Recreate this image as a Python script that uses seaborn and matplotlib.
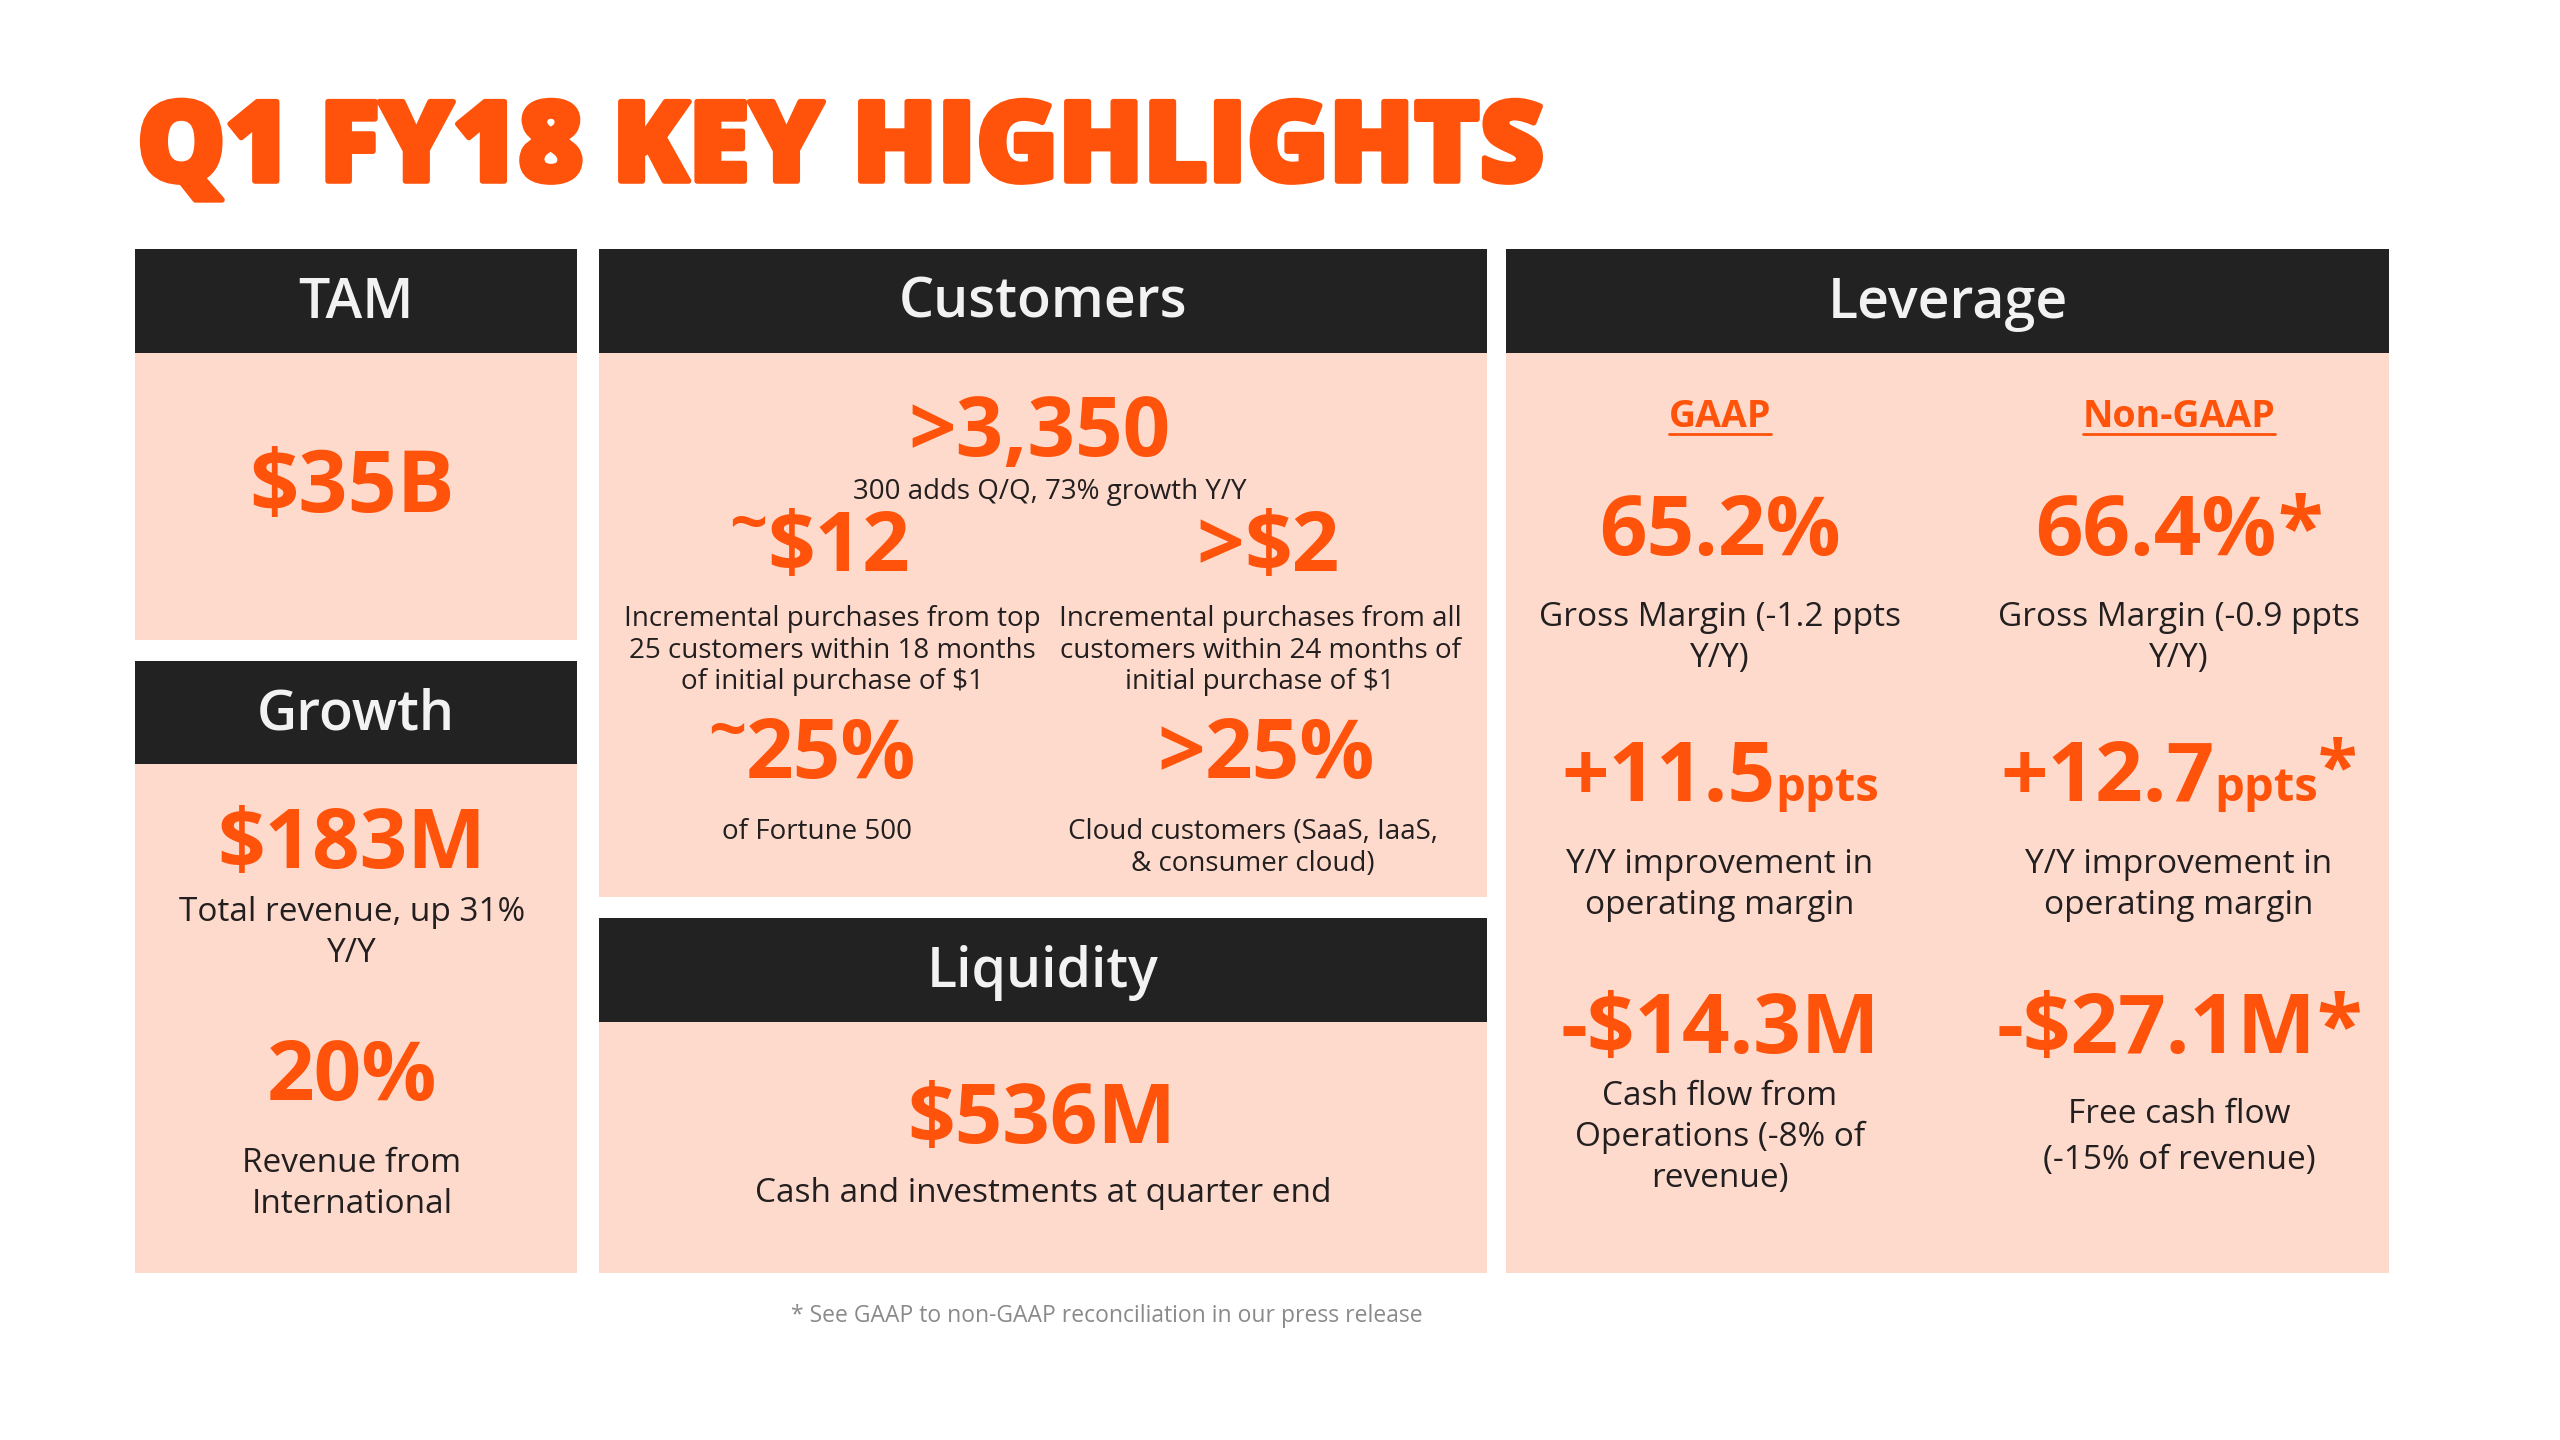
import matplotlib.pyplot as plt
import matplotlib.patheffects as pe
from matplotlib.patches import Rectangle
import seaborn as sns

# Slide content
title = 'Q1 FY18 KEY HIGHLIGHTS'
headers = ['TAM', 'Growth', 'Customers', 'Liquidity', 'Leverage']

tam_value = '$35B'

growth_values = ['$183M', '20%']
growth_notes = [['Total revenue, up 31%', 'Y/Y'],
                ['Revenue from', 'International']]

customer_total = '>3,350'
customer_total_note = '300 adds Q/Q, 73% growth Y/Y'
customer_prefix = ['~', '>', '~', '>']
customer_values = ['$12', '$2', '25%', '25%']
customer_notes = [['Incremental purchases from top', '25 customers within 18 months', 'of initial purchase of $1'],
                  ['Incremental purchases from all', 'customers within 24 months of', 'initial purchase of $1'],
                  ['of Fortune 500'],
                  ['Cloud customers (SaaS, IaaS,', '& consumer cloud)']]

liquidity_value = '$536M'
liquidity_note = 'Cash and investments at quarter end'

leverage_cols = ['GAAP', 'Non-GAAP']
gaap_values = ['65.2%', '+11.5', '-$14.3M']
non_gaap_values = ['66.4%', '+12.7', '-$27.1M']
leverage_units = ['', 'ppts', '']
gaap_notes = [['Gross Margin (-1.2 ppts', 'Y/Y)'],
              ['Y/Y improvement in', 'operating margin'],
              ['Cash flow from', 'Operations (-8% of', 'revenue)']]
non_gaap_notes = [['Gross Margin (-0.9 ppts', 'Y/Y)'],
                  ['Y/Y improvement in', 'operating margin'],
                  ['Free cash flow', '(-15% of revenue)']]

footnote = '* See GAAP to non-GAAP reconciliation in our press release'

ORANGE = '#FF520A'
DARK = '#222222'
PEACH = '#FDDACB'
INK = '#231F20'

sns.set_theme(style='white')
plt.rcParams['font.family'] = ['Open Sans', 'DejaVu Sans']

fig = plt.figure(figsize=(25.6, 14.4), dpi=100)
ax = fig.add_axes([0, 0, 1, 1])
ax.set_xlim(0, 2560)
ax.set_ylim(1440, 0)
ax.axis('off')
renderer = fig.canvas.get_renderer()

BIG = 60
SMALL_UNIT = 34


def panel(x0, x1, top, mid, bottom, name):
    ax.add_patch(Rectangle((x0, top), x1 - x0, mid - top, color=DARK, lw=0))
    ax.add_patch(Rectangle((x0, mid), x1 - x0, bottom - mid, color=PEACH, lw=0))
    ax.text((x0 + x1) / 2, top + 69, name, color='#F2F2F2', fontsize=40,
            fontweight='semibold', ha='center', va='baseline')


def lines(x, y, rows, size=24, gap=41, color=INK):
    for i, row in enumerate(rows):
        ax.text(x, y + i * gap, row, color=color, fontsize=size,
                ha='center', va='baseline')


def big(x, y, parts):
    # parts: (text, size, rise) pieces drawn side by side, centred on x
    widths = []
    for s, size, rise in parts:
        t = ax.text(0, 0, s, fontsize=size, fontweight='bold')
        widths.append(t.get_window_extent(renderer).width)
        t.remove()
    left = x - sum(widths) / 2
    for (s, size, rise), w in zip(parts, widths):
        ax.text(left, y - rise, s, color=ORANGE, fontsize=size,
                fontweight='bold', ha='left', va='baseline')
        left += w


# title
ax.text(137, 181, title, color=ORANGE, fontsize=80, fontweight='heavy',
        ha='left', va='baseline',
        path_effects=[pe.withStroke(linewidth=4, foreground=ORANGE)])

# panels
panel(135, 577, 249, 353, 640, headers[0])
panel(135, 577, 661, 764, 1273, headers[1])
panel(599, 1487, 249, 353, 897, headers[2])
panel(599, 1487, 918, 1022, 1273, headers[3])
panel(1506, 2389, 249, 353, 1273, headers[4])

# TAM
big(352, 512, [(tam_value, 62, 0)])

# Growth
big(352, 868, [(growth_values[0], BIG, 0)])
lines(352, 921, growth_notes[0])
big(352, 1100, [(growth_values[1], BIG, 0)])
lines(352, 1172, growth_notes[1])

# Customers
big(1040, 456, [(customer_total, BIG, 0)])
lines(1050, 499, [customer_total_note], size=20)
cx = [820, 1268, 812, 1266]
cy = [571, 571, 778, 778]
for i in range(4):
    pre = customer_prefix[i]
    if pre == '~':
        parts = [(pre, 48, 26), (customer_values[i], BIG, 0)]
    else:
        parts = [(pre, BIG, 0), (customer_values[i], BIG, 0)]
    big(cx[i], cy[i], parts)
lines(832, 626, customer_notes[0], size=20, gap=31.5)
lines(1260, 626, customer_notes[1], size=20, gap=31.5)
lines(817, 839, customer_notes[2], size=20, gap=32)
lines(1253, 839, customer_notes[3], size=20, gap=32)

# Liquidity
big(1042, 1143, [(liquidity_value, BIG, 0)])
lines(1043, 1202, [liquidity_note])

# Leverage
lx = [1720, 2179]
for j, col in enumerate(leverage_cols):
    t = ax.text(lx[j], 427, col, color=ORANGE, fontsize=27,
                fontweight='bold', ha='center', va='baseline')
    w = t.get_window_extent(renderer).width
    ax.plot([lx[j] - w / 2, lx[j] + w / 2], [434, 434], color=ORANGE, lw=2)

value_rows = [555, 801, 1053]
for i in range(3):
    for j, vals in enumerate([gaap_values, non_gaap_values]):
        parts = [(vals[i], BIG, 0)]
        if leverage_units[i]:
            parts.append((leverage_units[i], SMALL_UNIT, 0))
        if j == 1:
            parts.append(('*', BIG if not leverage_units[i] else 52,
                          0 if not leverage_units[i] else 10))
        big(lx[j], value_rows[i], parts)

lines(lx[0], 626, gaap_notes[0])
lines(lx[1], 626, non_gaap_notes[0])
lines(lx[0], 873, gaap_notes[1])
lines(lx[1], 873, non_gaap_notes[1])
lines(lx[0], 1105, gaap_notes[2])
lines(lx[1], 1123, non_gaap_notes[2], gap=46)

# footnote
ax.text(1107, 1322, footnote, color='#8A8A8A', fontsize=16.5,
        ha='center', va='baseline')

fig.savefig('out.png', dpi=100, facecolor='white')
